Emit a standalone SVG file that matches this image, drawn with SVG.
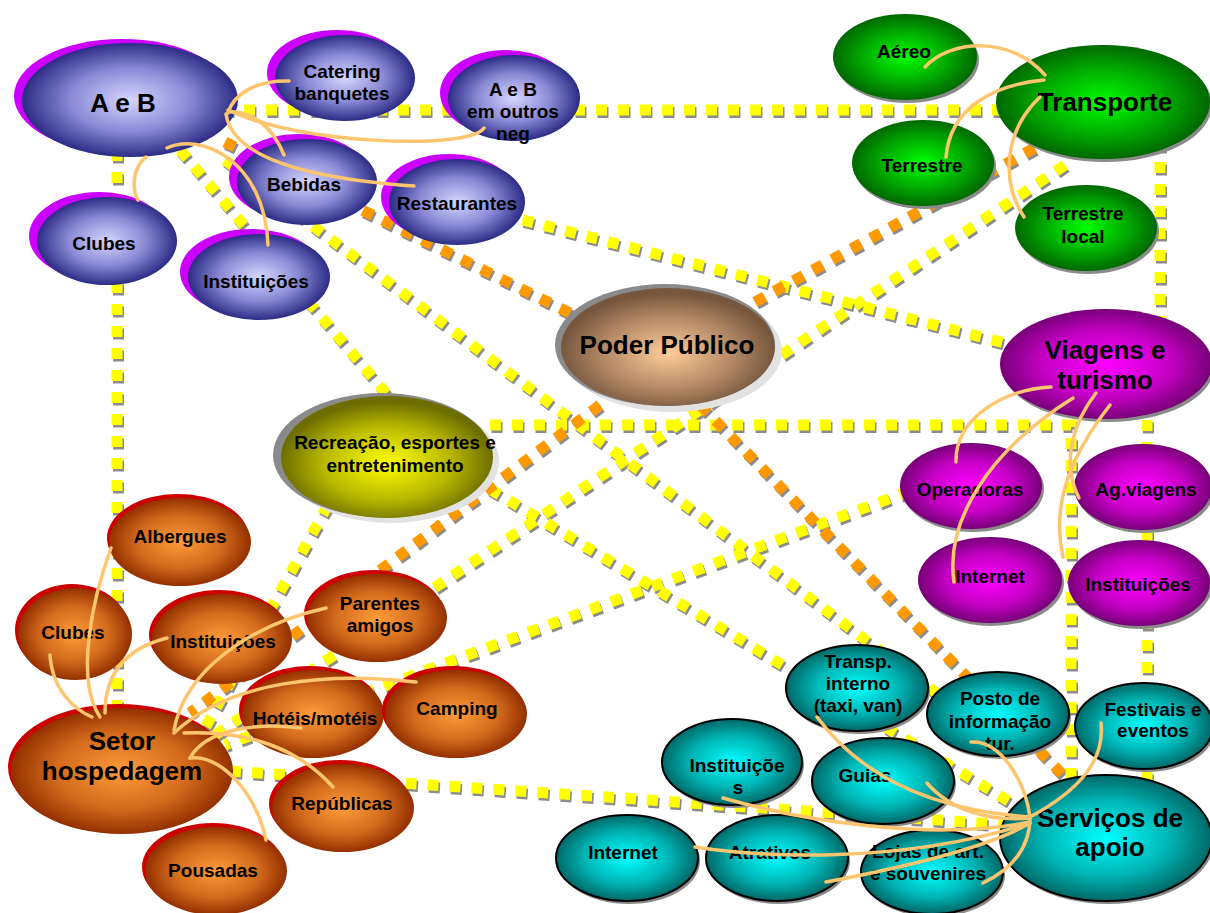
<svg xmlns="http://www.w3.org/2000/svg" width="1210" height="913" viewBox="0 0 1210 913">
<style>
.t{font-family:"Liberation Sans",Arial,sans-serif;font-weight:bold;fill:#000;text-anchor:middle;font-size:19px}
.tb{font-size:26px}
.mag{fill:#CC00FF}
.red{fill:#CC0000}
.sh{fill:#8a8a8a}
.blue{fill:url(#gBlue)}
.green{fill:url(#gGreen)}
.purp{fill:url(#gPurp)}
.oran{fill:url(#gOran)}
.teal{fill:url(#gTeal);stroke:#000;stroke-width:2}
.dots{fill:none;stroke-width:11;stroke-dasharray:11 11}
.ys{stroke:#8c8c8c}
.yl{stroke:#FFFF00}
.ol{stroke:#FF9900}
.arc{fill:none;stroke:#FDC56E;stroke-width:3.5;stroke-linecap:round}
</style>
<defs>
<radialGradient id="gBlue" cx="50%" cy="50%" r="50%"><stop offset="0" stop-color="#D6D6FF"/><stop offset="0.55" stop-color="#8A8AD6"/><stop offset="1" stop-color="#2C2C86"/></radialGradient>
<radialGradient id="gGreen" cx="50%" cy="50%" r="50%"><stop offset="0" stop-color="#00FF00"/><stop offset="0.6" stop-color="#00A800"/><stop offset="1" stop-color="#006800"/></radialGradient>
<radialGradient id="gPurp" cx="50%" cy="50%" r="50%"><stop offset="0" stop-color="#FF00FF"/><stop offset="0.6" stop-color="#C400C4"/><stop offset="1" stop-color="#780078"/></radialGradient>
<radialGradient id="gOran" cx="50%" cy="50%" r="50%"><stop offset="0" stop-color="#FF9C3A"/><stop offset="0.6" stop-color="#D26A1C"/><stop offset="1" stop-color="#943000"/></radialGradient>
<radialGradient id="gTeal" cx="50%" cy="50%" r="50%"><stop offset="0" stop-color="#00FFFF"/><stop offset="0.6" stop-color="#00B4B4"/><stop offset="1" stop-color="#006868"/></radialGradient>
<radialGradient id="gBrown" cx="50%" cy="55%" r="50%"><stop offset="0" stop-color="#FFCC99"/><stop offset="0.6" stop-color="#B48A66"/><stop offset="1" stop-color="#76573E"/></radialGradient>
<radialGradient id="gOlive" cx="50%" cy="55%" r="50%"><stop offset="0" stop-color="#FFFF00"/><stop offset="0.6" stop-color="#B8B800"/><stop offset="1" stop-color="#6E6E00"/></radialGradient>
<path id="la" d="M200,110 H1000"/>
<path id="lb" d="M1160,140 V320"/>
<path id="lc" d="M117,150 V715"/>
<path id="ld" d="M180,150 L390,398"/>
<path id="le" d="M225,160 L975,722"/>
<path id="lf" d="M480,209 L1005,343"/>
<path id="lg" d="M1065,165 L215,735"/>
<path id="ll" d="M490,425 H1071 V795"/>
<path id="lm" d="M1147,420 V790"/>
<path id="ln" d="M328,505 L205,728"/>
<path id="lo" d="M910,491 L225,745"/>
<path id="lp" d="M230,771 L1010,825"/>
<path id="lq" d="M490,489 L1015,805"/>
<path id="oh" d="M755,302 L1040,145"/>
<path id="oi" d="M225,142 L580,318"/>
<path id="oj" d="M600,405 L190,713"/>
<path id="ok" d="M700,405 L1070,782"/>
</defs>
<rect width="1210" height="913" fill="#fff"/>
<g id="connectors">
<g class="dots ys" transform="translate(1.5,2.5)">
<use href="#la"/><use href="#lb"/><use href="#lc"/><use href="#ld"/><use href="#le"/><use href="#lf"/><use href="#lg"/><use href="#ll"/><use href="#lm"/><use href="#ln"/><use href="#lo"/><use href="#lp"/><use href="#lq"/><use href="#oh"/><use href="#oi"/><use href="#oj"/><use href="#ok"/>
</g>
<g class="dots yl">
<use href="#la"/><use href="#lb"/><use href="#lc"/><use href="#ld"/><use href="#le"/><use href="#lf"/><use href="#lg"/><use href="#ll"/><use href="#lm"/><use href="#ln"/><use href="#lo"/><use href="#lp"/><use href="#lq"/>
</g>
<g class="dots ol">
<use href="#oh"/><use href="#oi"/><use href="#oj"/><use href="#ok"/>
</g>
</g>
<g id="n-aeb"><ellipse class="mag" cx="122" cy="96" rx="108" ry="57"/><ellipse class="blue" cx="130" cy="100" rx="108" ry="57"/><text class="t tb" x="123" y="112">A e B</text></g>
<g id="n-catering"><ellipse class="mag" cx="337" cy="73" rx="70" ry="43"/><ellipse class="blue" cx="345" cy="78" rx="70" ry="43"/><text class="t" x="342" y="78">Catering</text><text class="t" x="342" y="100">banquetes</text></g>
<g id="n-aeboutros"><ellipse class="mag" cx="506" cy="93" rx="66" ry="43"/><ellipse class="blue" cx="514" cy="98" rx="66" ry="43"/><text class="t" x="513" y="96">A e B</text><text class="t" x="513" y="118">em outros</text><text class="t" x="513" y="140">neg</text></g>
<g id="n-bebidas"><ellipse class="mag" cx="299" cy="177" rx="70" ry="43"/><ellipse class="blue" cx="307" cy="182" rx="70" ry="43"/><text class="t" x="304" y="191">Bebidas</text></g>
<g id="n-restaurantes"><ellipse class="mag" cx="449" cy="197" rx="68" ry="43"/><ellipse class="blue" cx="457" cy="202" rx="68" ry="43"/><text class="t" x="457" y="210">Restaurantes</text></g>
<g id="n-clubes-ab"><ellipse class="mag" cx="99" cy="236" rx="70" ry="44"/><ellipse class="blue" cx="107" cy="241" rx="70" ry="44"/><text class="t" x="104" y="250">Clubes</text></g>
<g id="n-inst-ab"><ellipse class="mag" cx="251" cy="272" rx="71" ry="43"/><ellipse class="blue" cx="259" cy="277" rx="71" ry="43"/><text class="t" x="256" y="288">Instituições</text></g>
<g id="n-aereo"><ellipse class="sh" cx="907" cy="60" rx="72" ry="43"/><ellipse class="green" cx="905" cy="57" rx="72" ry="43"/><text class="t" x="904" y="58">Aéreo</text></g>
<g id="n-transporte"><ellipse class="sh" cx="1105" cy="105" rx="107" ry="57"/><ellipse class="green" cx="1103" cy="102" rx="107" ry="57"/><text class="t tb" x="1105" y="111">Transporte</text></g>
<g id="n-terrestre"><ellipse class="sh" cx="925" cy="166" rx="71" ry="43"/><ellipse class="green" cx="923" cy="163" rx="71" ry="43"/><text class="t" x="922" y="172">Terrestre</text></g>
<g id="n-terrestrelocal"><ellipse class="sh" cx="1088" cy="231" rx="71" ry="43"/><ellipse class="green" cx="1086" cy="228" rx="71" ry="43"/><text class="t" x="1083" y="220">Terrestre</text><text class="t" x="1083" y="243">local</text></g>
<g id="n-viagens"><ellipse class="sh" cx="1108" cy="367" rx="106" ry="55"/><ellipse class="purp" cx="1106" cy="364" rx="106" ry="55"/><text class="t tb" x="1105" y="359">Viagens e</text><text class="t tb" x="1105" y="389">turismo</text></g>
<g id="n-operadoras"><ellipse class="sh" cx="973" cy="489" rx="71" ry="43"/><ellipse class="purp" cx="971" cy="486" rx="71" ry="43"/><text class="t" x="970" y="496">Operadoras</text></g>
<g id="n-agviagens"><ellipse class="sh" cx="1145" cy="490" rx="69" ry="43"/><ellipse class="purp" cx="1143" cy="487" rx="69" ry="43"/><text class="t" x="1146" y="496">Ag.viagens</text></g>
<g id="n-internet-vt"><ellipse class="sh" cx="992" cy="583" rx="72" ry="43"/><ellipse class="purp" cx="990" cy="580" rx="72" ry="43"/><text class="t" x="990" y="583">Internet</text></g>
<g id="n-inst-vt"><ellipse class="sh" cx="1141" cy="586" rx="71" ry="43"/><ellipse class="purp" cx="1139" cy="583" rx="71" ry="43"/><text class="t" x="1138" y="591">Instituições</text></g>
<g id="n-poder"><ellipse fill="#E2E2E2" cx="672" cy="351" rx="110" ry="61"/><ellipse fill="#8a8a8a" cx="665" cy="345" rx="110" ry="61"/><ellipse fill="url(#gBrown)" cx="668" cy="347" rx="107" ry="59"/><text class="t tb" x="667" y="354">Poder Público</text></g>
<g id="n-recreacao"><ellipse fill="#E2E2E2" cx="391" cy="461" rx="108" ry="62"/><ellipse fill="#8a8a8a" cx="382" cy="455" rx="109" ry="62"/><ellipse fill="url(#gOlive)" cx="387" cy="457" rx="106" ry="61"/><text class="t" x="395" y="449">Recreação, esportes e</text><text class="t" x="395" y="472">entretenimento</text></g>
<g id="n-albergues"><ellipse class="red" cx="178" cy="538" rx="71" ry="44"/><ellipse class="oran" cx="180" cy="542" rx="71" ry="44"/><text class="t" x="180" y="543">Albergues</text></g>
<g id="n-clubes-sh"><ellipse class="red" cx="72" cy="630" rx="57" ry="46"/><ellipse class="oran" cx="75" cy="634" rx="57" ry="46"/><text class="t" x="73" y="639">Clubes</text></g>
<g id="n-inst-sh"><ellipse class="red" cx="219" cy="635" rx="70" ry="45"/><ellipse class="oran" cx="222" cy="639" rx="70" ry="45"/><text class="t" x="223" y="648">Instituições</text></g>
<g id="n-parentes"><ellipse class="red" cx="374" cy="614" rx="70" ry="44"/><ellipse class="oran" cx="377" cy="618" rx="70" ry="44"/><text class="t" x="380" y="610">Parentes</text><text class="t" x="380" y="632">amigos</text></g>
<g id="n-hoteis"><ellipse class="red" cx="310" cy="710" rx="71" ry="44"/><ellipse class="oran" cx="313" cy="714" rx="71" ry="44"/><text class="t" x="315" y="725">Hotéis/motéis</text></g>
<g id="n-camping"><ellipse class="red" cx="453" cy="710" rx="71" ry="44"/><ellipse class="oran" cx="456" cy="714" rx="71" ry="44"/><text class="t" x="457" y="715">Camping</text></g>
<g id="n-setor"><ellipse class="red" cx="119" cy="767" rx="111" ry="63"/><ellipse class="oran" cx="122" cy="771" rx="111" ry="63"/><text class="t tb" x="122" y="750">Setor</text><text class="t tb" x="122" y="780">hospedagem</text></g>
<g id="n-republicas"><ellipse class="red" cx="340" cy="804" rx="71" ry="44"/><ellipse class="oran" cx="343" cy="808" rx="71" ry="44"/><text class="t" x="342" y="810">Repúblicas</text></g>
<g id="n-pousadas"><ellipse class="red" cx="213" cy="867" rx="71" ry="44"/><ellipse class="oran" cx="216" cy="871" rx="71" ry="44"/><text class="t" x="213" y="877">Pousadas</text></g>
<g id="n-transp"><ellipse class="sh" cx="859" cy="691" rx="71" ry="43"/><ellipse class="teal" cx="857" cy="688" rx="71" ry="43"/><text class="t" x="858" y="668">Transp.</text><text class="t" x="858" y="690">interno</text><text class="t" x="858" y="712">(taxi, van)</text></g>
<g id="n-posto"><ellipse class="sh" cx="1000" cy="717" rx="71" ry="42"/><ellipse class="teal" cx="998" cy="714" rx="71" ry="42"/><text class="t" x="1000" y="705">Posto de</text><text class="t" x="1000" y="728">informação</text><text class="t" x="1000" y="750">tur.</text></g>
<g id="n-festivais"><ellipse class="sh" cx="1146" cy="729" rx="69" ry="43"/><ellipse class="teal" cx="1144" cy="726" rx="69" ry="43"/><text class="t" x="1153" y="716">Festivais e</text><text class="t" x="1153" y="737">eventos</text></g>
<g id="n-inst-sa"><ellipse class="sh" cx="734" cy="765" rx="70" ry="43"/><ellipse class="teal" cx="732" cy="762" rx="70" ry="43"/><text class="t" x="737" y="772">Instituiçõe</text><text class="t" x="738" y="794">s</text></g>
<g id="n-guias"><ellipse class="sh" cx="885" cy="784" rx="71" ry="43"/><ellipse class="teal" cx="883" cy="781" rx="71" ry="43"/><text class="t" x="865" y="782">Guias</text></g>
<g id="n-servicos"><ellipse class="sh" cx="1108" cy="841" rx="106" ry="63"/><ellipse class="teal" cx="1106" cy="838" rx="106" ry="63"/><text class="t tb" x="1110" y="827">Serviços de</text><text class="t tb" x="1110" y="856">apoio</text></g>
<g id="n-internet-sa"><ellipse class="sh" cx="629" cy="861" rx="71" ry="43"/><ellipse class="teal" cx="627" cy="858" rx="71" ry="43"/><text class="t" x="623" y="859">Internet</text></g>
<g id="n-atrativos"><ellipse class="sh" cx="779" cy="861" rx="71" ry="43"/><ellipse class="teal" cx="777" cy="858" rx="71" ry="43"/><text class="t" x="770" y="859">Atrativos</text></g>
<g id="n-lojas"><ellipse class="sh" cx="934" cy="875" rx="71" ry="42"/><ellipse class="teal" cx="932" cy="872" rx="71" ry="42"/><text class="t" x="928" y="858">Lojas de art.</text><text class="t" x="928" y="880">e souvenires</text></g>
<g id="connectors-arcs" class="arc">
<path d="M289,81 C255,80 233,95 228,113"/>
<path d="M228,110 C300,145 470,150 484,128"/>
<path d="M228,112 C250,110 272,125 284,155"/>
<path d="M226,114 C232,155 300,178 414,186"/>
<path d="M167,148 C200,132 265,160 268,245"/>
<path d="M146,157 C132,168 132,190 138,200"/>
<path d="M925,67 C950,40 1010,35 1045,75"/>
<path d="M946,157 C950,110 990,85 1044,80"/>
<path d="M1024,217 C1000,180 1005,130 1040,97"/>
<path d="M956,462 C955,420 1000,390 1051,387"/>
<path d="M954,582 C945,520 990,450 1073,398"/>
<path d="M1096,393 C1075,420 1060,460 1079,498"/>
<path d="M1110,405 C1075,450 1050,500 1063,557"/>
<path d="M111,548 C92,600 75,680 100,717"/>
<path d="M50,655 C52,690 75,710 92,717"/>
<path d="M167,638 C120,650 105,680 105,713"/>
<path d="M326,608 C250,625 185,670 174,730"/>
<path d="M416,682 C330,672 230,680 174,733"/>
<path d="M301,728 C255,722 205,730 190,758"/>
<path d="M333,787 C300,750 250,730 184,733"/>
<path d="M266,840 C255,790 220,755 190,758"/>
<path d="M817,717 C860,775 930,810 1030,817"/>
<path d="M971,742 C1000,740 1025,780 1030,817"/>
<path d="M983,883 C1010,870 1030,850 1030,817"/>
<path d="M1101,723 C1105,760 1080,790 1030,817"/>
<path d="M927,783 C950,810 990,822 1030,818"/>
<path d="M723,798 C800,820 930,842 1030,822"/>
<path d="M695,847 C760,857 900,865 1030,823"/>
<path d="M826,882 C900,868 990,847 1030,823"/>
</g>
</svg>
